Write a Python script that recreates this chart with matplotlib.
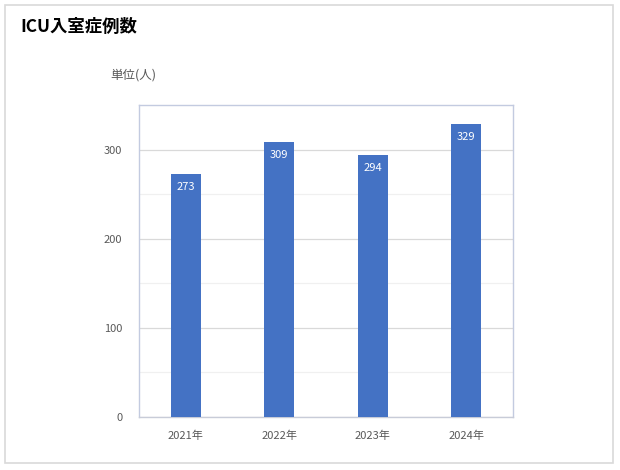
import matplotlib
matplotlib.use("Agg")
import matplotlib.pyplot as plt
from matplotlib.patches import Rectangle

plt.rcParams['font.family'] = ['Noto Sans CJK JP', 'DejaVu Sans']

categories = ["2021年", "2022年", "2023年", "2024年"]
values = [273, 309, 294, 329]
title = "ICU入室症例数"
unit_label = "単位(人)"

W, H = 620, 470
fig = plt.figure(figsize=(W/100, H/100), dpi=100)
fig.patch.set_facecolor("white")

# outer chart border
fig.add_artist(Rectangle((5/W, 1 - 463/H), 608/W, 458/H, transform=fig.transFigure,
                         fill=False, edgecolor="#d9d9d9", linewidth=1.2))

left, right, top, bottom = 139, 513, 105, 417
ax = fig.add_axes([left/W, 1 - bottom/H, (right-left)/W, (bottom-top)/H])

x = list(range(len(categories)))
bars = ax.bar(x, values, width=0.32, color="#4472C4", zorder=3)
for xi, v in zip(x, values):
    ax.annotate(str(v), (xi, v), xytext=(0, -6), textcoords="offset points",
                ha="center", va="top", color="white", fontsize=8, zorder=4)

ax.set_xlim(-0.5, len(categories) - 0.5)
ax.set_ylim(0, 350)
ax.set_yticks([0, 100, 200, 300])
ax.set_yticks([50, 150, 250], minor=True)
ax.grid(axis="y", which="major", color="#d9d9d9", linewidth=0.9, zorder=0)
ax.grid(axis="y", which="minor", color="#f0f0f0", linewidth=0.9, zorder=0)
ax.set_xticks(x)
ax.set_xticklabels(categories)
ax.tick_params(axis="both", which="both", length=0, colors="#595959", labelsize=8)
ax.tick_params(axis="x", pad=10)
ax.tick_params(axis="y", pad=12)
for s in ax.spines.values():
    s.set_color("#c3cbe0")
    s.set_linewidth(1.0)
ax.spines["bottom"].set_color("#c8ccd8")

fig.text(20/W, 1 - 27/H, title, fontsize=12.5, fontweight="bold", color="black",
         ha="left", va="center")
fig.text(110/W, 1 - 75/H, unit_label, fontsize=9, color="#595959",
         ha="left", va="center")

fig.savefig("out.png", dpi=100, facecolor="white")
